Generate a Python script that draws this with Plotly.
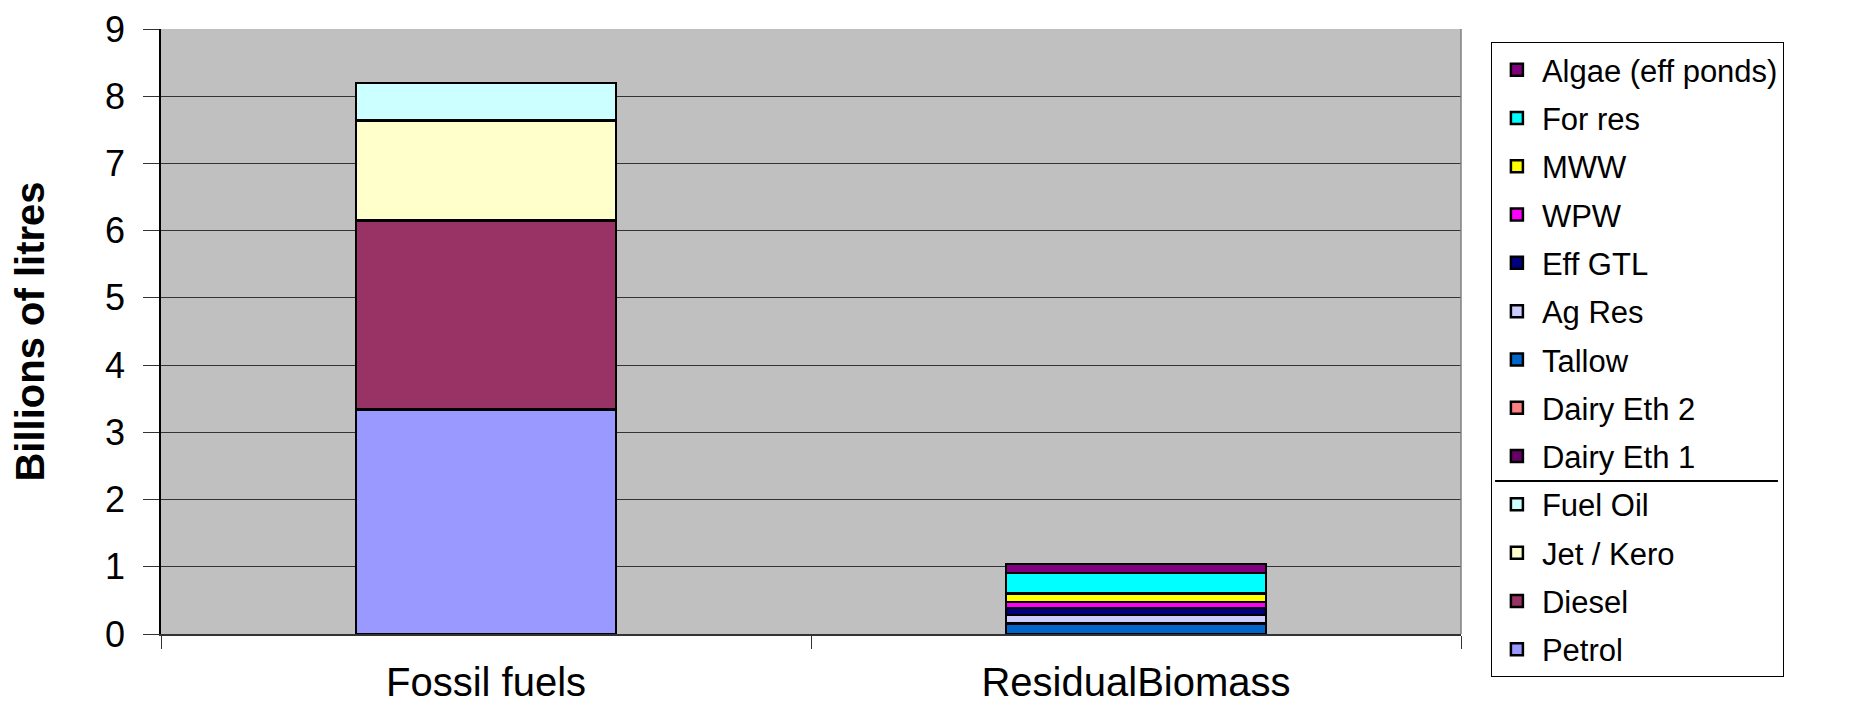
import plotly.graph_objects as go

categories = ["Fossil fuels", "ResidualBiomass"]

# series in stacking order (bottom to top)
series_names = ["Petrol", "Diesel", "Jet / Kero", "Fuel Oil",
                "Dairy Eth 1", "Dairy Eth 2", "Tallow", "Ag Res", "Eff GTL",
                "WPW", "MWW", "For res", "Algae (eff ponds)"]
petrol = [3.34, None]
diesel = [2.81, None]
jet_kero = [1.49, None]
fuel_oil = [0.56, None]
dairy_eth1 = [None, 0.0]
dairy_eth2 = [None, 0.0]
tallow = [None, 0.157]
ag_res = [None, 0.123]
eff_gtl = [None, 0.108]
wpw = [None, 0.088]
mww = [None, 0.123]
for_res = [None, 0.31]
algae = [None, 0.133]

series_values = [petrol, diesel, jet_kero, fuel_oil, dairy_eth1, dairy_eth2,
                 tallow, ag_res, eff_gtl, wpw, mww, for_res, algae]
colors = ["#9999FF", "#993366", "#FFFFCC", "#CCFFFF",
          "#660066", "#FF8080", "#0066CC", "#CCCCFF", "#000080",
          "#FF00FF", "#FFFF00", "#00FFFF", "#800080"]

y_ticks = list(range(0, 10))

FONT = "Liberation Sans, Arial, sans-serif"

fig = go.Figure()
n = len(series_names)
for i, (name, vals, col) in enumerate(zip(series_names, series_values, colors)):
    fig.add_trace(go.Bar(
        x=categories, y=vals, name=name, legendgroup="g%d" % i,
        legendrank=n - i,
        marker=dict(color=col, line=dict(color="black", width=2.5)),
    ))

# page has an 8px body margin; figure is sized/margined to compensate
W, H = 1850, 702
L, T = 153, 21
R = W - 1453
B = H - 626
PLOT_H = H - T - B
fig.update_layout(
    width=W, height=H,
    barmode="stack", bargap=0.6,
    paper_bgcolor="white", plot_bgcolor="#C0C0C0",
    margin=dict(l=L, r=R, t=T, b=B, autoexpand=False),
    font=dict(family=FONT, color="black"),
    showlegend=True,
    legend=dict(
        traceorder="grouped", tracegroupgap=5,
        x=1.023, y=(626 - 34) / PLOT_H, xanchor="left", yanchor="top",
        bgcolor="rgba(255,255,255,0)", bordercolor="black", borderwidth=1,
        font=dict(family=FONT, size=31, color="black"),
        itemwidth=40, maxheight=700,
    ),
)
fig.update_yaxes(
    range=[0, 9], tickvals=y_ticks, ticktext=[str(v) for v in y_ticks],
    showgrid=True, gridcolor="#333333", gridwidth=1,
    showline=True, linecolor="black", linewidth=1.5,
    ticks="outside", ticklen=16, tickcolor="#333333",
    ticklabelstandoff=11, ticklabeloverflow="allow",
    tickfont=dict(family=FONT, size=36, color="black"),
    zeroline=False,
    title=dict(text="<b>Billions of litres</b>", font=dict(family=FONT, size=40, color="black"), standoff=48),
)
fig.update_xaxes(
    showline=True, linecolor="#333333", linewidth=1.5,
    ticks="outside", ticklen=13, tickcolor="#333333", tickson="boundaries",
    ticklabelstandoff=12, ticklabeloverflow="allow",
    tickfont=dict(family=FONT, size=40, color="black"),
    showgrid=False,
)

# right border of plot area
fig.add_shape(type="line", xref="paper", yref="paper",
              x0=1, x1=1, y0=0, y1=1, line=dict(color="#808080", width=1.5))

# separator line inside the legend (between Dairy Eth 1 and Fuel Oil)
fig.add_shape(type="line", xref="paper", yref="paper",
              x0=1.0262, x1=1.2438, y0=(626 - 473) / PLOT_H, y1=(626 - 473) / PLOT_H,
              line=dict(color="black", width=2))

fig.write_html("out.html")
